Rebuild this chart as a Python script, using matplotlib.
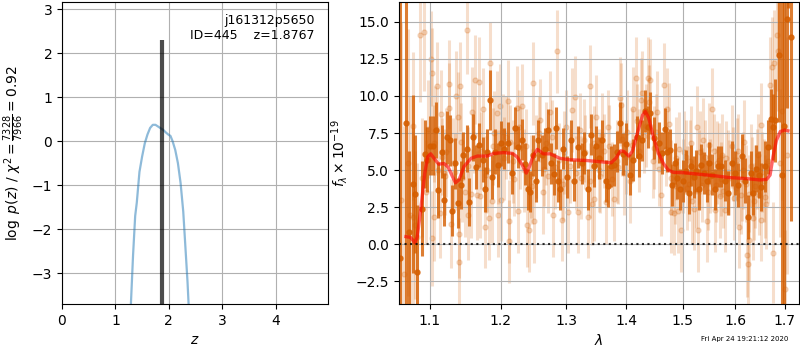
import matplotlib
matplotlib.use("Agg")
from matplotlib import pyplot as plt
from matplotlib.ticker import FixedLocator, FixedFormatter, NullLocator
import numpy as np

# p(z) curve
z_grid = [1.29, 1.33, 1.37, 1.40, 1.45, 1.50, 1.55, 1.60, 1.65, 1.70, 1.75, 1.80,
          1.85, 1.90, 1.95, 2.00, 2.03, 2.07, 2.12, 2.17, 2.22, 2.27, 2.31, 2.35, 2.37]
logpz = [-3.70, -2.6, -1.7, -1.4, -0.7, -0.35, -0.05, 0.15, 0.30, 0.37, 0.37, 0.33,
         0.29, 0.25, 0.19, 0.14, 0.12, 0.0, -0.2, -0.5, -0.95, -1.6, -2.4, -3.2, -3.70]
zbest = 1.8767
zbest_top = 2.3

# binned spectrum (dark points)
wave_bin = [1.060, 1.0675, 1.072, 1.078, 1.0795, 1.0826, 1.089, 1.0927, 1.096, 1.100,
            1.1042, 1.108, 1.1113, 1.116, 1.1198, 1.1236, 1.127, 1.130, 1.135, 1.1386,
            1.1424, 1.1457, 1.1505, 1.1547, 1.1594, 1.1635, 1.168, 1.1735, 1.1764, 1.1796,
            1.1844, 1.1877, 1.1915, 1.1952, 1.200, 1.205, 1.210, 1.2161, 1.2212, 1.2262,
            1.2312, 1.2364, 1.2403, 1.2439, 1.2479, 1.2524, 1.2565, 1.2615, 1.2667, 1.2717,
            1.2767, 1.2808, 1.2842, 1.2879, 1.2909, 1.2959, 1.301, 1.3087, 1.3131, 1.3197,
            1.3251, 1.3295, 1.335, 1.3403, 1.3448, 1.3485, 1.3541, 1.3595, 1.3649, 1.3693,
            1.3731, 1.3787, 1.3841, 1.3895, 1.394, 1.3993, 1.4055, 1.4115, 1.4175, 1.4218,
            1.4278, 1.432, 1.4369, 1.4418, 1.4478, 1.4564, 1.4624, 1.4673, 1.472, 1.4764,
            1.4805, 1.4855, 1.4902, 1.4945, 1.5006, 1.5068, 1.5119, 1.5162, 1.5213, 1.5257,
            1.5308, 1.5351, 1.5402, 1.5453, 1.5502, 1.5553, 1.5615, 1.5666, 1.5717, 1.5792,
            1.5868, 1.5930, 1.5992, 1.606, 1.6127, 1.6194, 1.6249, 1.6304, 1.6357, 1.6418,
            1.6473, 1.652, 1.6588, 1.6655, 1.671, 1.6757, 1.6803, 1.689, 1.6945, 1.699,
            1.7045, 1.708, 1.7125]
flux_bin = [-0.9, 8.15, 0.8, 4.06, 3.4, -1.85, 2.4, 6.1, 5.7, 6.65,
            6.65, 7.7, 3.65, 6.25, 3.02, 7.2, 7.0, 2.27, 5.45, 2.8,
            4.0, 6.0, 6.45, 2.85, 7.2, 5.2, 6.7, 5.7, 3.7, 6.25,
            9.72, 4.55, 6.25, 5.35, 6.8, 6.45, 6.85, 4.8, 7.85, 6.55,
            7.05, 5.4, 3.7, 3.55, 6.0, 4.25, 7.0, 6.0, 6.45, 7.7,
            5.45, 4.75, 7.85, 4.25, 3.7, 6.45, 4.55, 7.0, 4.3, 6.55,
            5.45, 6.15, 3.7, 7.4, 5.25, 6.6, 5.8, 7.0, 4.25, 3.95,
            5.25, 5.35, 6.25, 8.2, 6.1, 6.75, 4.7, 5.7, 7.25, 5.95,
            7.0, 9.0, 7.9, 8.85, 7.15, 6.85, 6.15, 7.8, 6.25, 6.35,
            4.0, 5.45, 4.45, 3.7, 4.25, 4.95, 3.45, 5.3, 4.55, 4.95,
            3.7, 5.35, 4.8, 4.25, 5.5, 4.7, 3.7, 5.25, 5.25, 4.3,
            3.45, 5.45, 4.8, 4.0, 5.95, 4.3, 1.85, 4.8, 3.45, 5.1,
            4.7, 3.85, 5.25, 6.55, 8.45, 7.9, 8.35, 12.75, 4.7, 8.0,
            15.2, 20.0, 14.0]
err_bin = [20, 15, 5.5, 6.0, 4.0, 4.5, 3.2, 2.3, 2.2, 2.0,
           2.0, 1.9, 1.9, 1.8, 1.8, 1.8, 1.7, 1.7, 1.7, 1.7,
           1.6, 1.6, 1.6, 1.6, 1.6, 1.5, 1.5, 1.5, 1.5, 1.5,
           2.0, 1.5, 1.5, 1.5, 1.5, 1.4, 1.4, 1.4, 1.4, 1.4,
           1.4, 1.4, 1.4, 1.4, 1.4, 1.4, 1.4, 1.4, 1.4, 1.4,
           1.4, 1.4, 1.4, 1.4, 1.4, 1.4, 1.4, 1.4, 1.4, 1.4,
           1.4, 1.4, 1.4, 1.4, 1.4, 1.4, 1.4, 1.4, 1.4, 1.4,
           1.4, 1.4, 1.4, 1.4, 1.4, 1.4, 1.4, 1.4, 1.4, 1.4,
           1.4, 1.4, 1.4, 1.4, 1.4, 1.4, 1.4, 1.4, 1.4, 1.4,
           1.4, 1.4, 1.4, 1.4, 1.4, 1.4, 1.4, 1.4, 1.4, 1.4,
           1.4, 1.4, 1.4, 1.4, 1.4, 1.4, 1.4, 1.4, 1.4, 1.4,
           1.5, 1.5, 1.5, 1.5, 1.5, 1.5, 1.5, 1.5, 1.5, 1.6,
           1.6, 1.6, 1.7, 1.8, 2.0, 2.2, 2.8, 4.5, 20, 12,
           6, 4.1, 12.4]

# unbinned spectrum (light points), scattered outliers
wave_raw = [1.0615, 1.066, 1.0705, 1.074, 1.077, 1.078, 1.0805, 1.083, 1.086, 1.089,
            1.0918, 1.095, 1.098, 1.1018, 1.1025, 1.1032, 1.1055, 1.1065, 1.1089, 1.1115,
            1.1135, 1.1152, 1.1185, 1.1225, 1.1255, 1.1262, 1.129, 1.132, 1.1357, 1.139,
            1.1395, 1.1405, 1.1415, 1.1445, 1.148, 1.1514, 1.1525, 1.1567, 1.158, 1.1622,
            1.1653, 1.168, 1.1703, 1.1735, 1.1764, 1.180, 1.183, 1.1844, 1.187, 1.1905,
            1.1938, 1.1963, 1.1985, 1.200, 1.2045, 1.208, 1.211, 1.212, 1.2128, 1.218,
            1.2236, 1.225, 1.2285, 1.2312, 1.235, 1.2391, 1.2415, 1.2455, 1.2489, 1.2494,
            1.2535, 1.2591, 1.263, 1.268, 1.2742, 1.2792, 1.2825, 1.2858, 1.2929, 1.2975,
            1.3035, 1.3103, 1.3148, 1.3185, 1.3235, 1.3285, 1.336, 1.3393, 1.3425, 1.3448,
            1.3485, 1.3535, 1.358, 1.3655, 1.371, 1.3787, 1.3835, 1.3885, 1.3905, 1.396,
            1.401, 1.406, 1.412, 1.416, 1.421, 1.425, 1.4278, 1.4335, 1.4369, 1.4418,
            1.448, 1.454, 1.4605, 1.466, 1.4712, 1.475, 1.4793, 1.4835, 1.4878, 1.4915,
            1.4975, 1.503, 1.508, 1.5135, 1.518, 1.522, 1.527, 1.5287, 1.533, 1.538,
            1.545, 1.549, 1.5553, 1.560, 1.565, 1.570, 1.575, 1.5792, 1.585, 1.593,
            1.598, 1.603, 1.608, 1.6135, 1.618, 1.6235, 1.6255, 1.628, 1.632, 1.6357,
            1.640, 1.6455, 1.6508, 1.652, 1.657, 1.662, 1.6691, 1.6735, 1.6757, 1.679,
            1.6843, 1.6865, 1.690, 1.6955, 1.700, 1.705]
flux_raw = [3.0, -2.0, 5.5, 2.0, 1.85, 7.96, 1.3, 0.5, 14.1, 4.5,
            14.3, 3.5, 7.8, 12.5, 0.4, 11.55, 1.85, 7.65, 10.65, 5.0,
            2.1, 8.75, 4.8, 6.2, 10.8, 9.2, 1.4, 5.5, 10.0, 8.6,
            -1.2, 0.7, 10.65, 4.5, 3.5, 14.45, 1.95, 3.4, 8.95, 11.1,
            3.3, 10.95, 3.25, 9.1, 1.2, 5.0, 1.75, 12.2, 2.9, 7.5,
            8.85, 1.95, 9.35, 3.0, 5.8, 7.2, 9.65, 0.2, 1.55, 5.6,
            9.2, 2.25, 6.5, 9.35, 5.0, 1.3, 0.95, 4.6, 10.85, 1.55,
            5.9, 8.35, 3.5, 6.8, 8.9, 1.95, 5.2, 13.0, 1.65, 6.2,
            2.2, 9.05, 9.9, 2.2, 4.5, 7.0, 1.85, 10.65, 2.75, 3.05,
            8.6, 5.0, 7.4, 2.85, 6.6, 3.05, 5.6, 9.85, 9.4, 4.8,
            7.6, 4.25, 9.15, 11.2, 6.3, 9.75, 10.2, 8.0, 11.2, 11.05,
            6.5, 8.9, 3.35, 10.75, 9.1, 8.1, 2.2, 2.1, 5.8, 2.25,
            0.95, 6.2, 3.8, 5.6, 2.9, 2.4, 7.9, 0.95, 6.2, 7.05,
            1.6, 6.7, 9.1, 2.3, 5.5, 3.25, 6.0, 2.3, 4.9, 6.6,
            3.1, 5.7, 1.2, 4.4, 6.9, -0.75, -1.3, 0.3, 5.3, 1.75,
            3.9, 6.0, 8.05, 1.65, 4.3, 2.7, 10.75, 11.95, -0.55, 12.2,
            14.1, 13.0, 5.5, 9.0, -3.0, 6.0]
err_raw = [12, 10, 9, 8, 6, 5, 5, 5, 4.5, 4,
           4, 3.5, 3.3, 3.2, 3.2, 3.0, 3.0, 3.0, 3.0, 3.0,
           3.0, 3.0, 3.0, 3.0, 3.0, 3.0, 3.0, 3.0, 3.0, 3.0,
           3.0, 3.0, 3.0, 3.0, 3.0, 3.0, 3.0, 3.0, 3.0, 3.0,
           3.0, 3.0, 2.8, 2.8, 2.8, 2.8, 2.8, 2.8, 2.8, 2.8,
           2.8, 2.8, 2.8, 2.8, 2.8, 2.8, 2.8, 2.8, 2.8, 2.8,
           2.8, 2.8, 2.8, 2.8, 2.8, 2.8, 2.8, 2.8, 2.8, 2.8,
           2.8, 2.8, 2.8, 2.8, 2.8, 2.8, 2.8, 2.8, 2.8, 2.8,
           2.8, 2.8, 2.8, 2.8, 2.8, 2.8, 2.8, 2.8, 2.8, 2.8,
           2.8, 2.8, 2.8, 2.8, 2.8, 2.8, 2.8, 2.8, 2.8, 2.8,
           2.8, 2.8, 2.8, 2.8, 2.8, 2.8, 2.8, 2.8, 2.8, 2.8,
           2.8, 2.8, 2.8, 2.8, 2.8, 2.8, 2.8, 2.8, 2.8, 2.8,
           2.8, 2.8, 2.8, 2.8, 2.8, 2.8, 2.8, 2.8, 2.8, 2.8,
           2.8, 2.8, 2.8, 2.8, 2.8, 2.8, 2.8, 2.8, 2.8, 2.8,
           2.8, 2.8, 2.8, 2.8, 2.8, 2.8, 2.8, 2.8, 2.8, 2.8,
           2.8, 2.8, 2.8, 2.8, 2.8, 3.0, 3.2, 3.4, 3.4, 3.6,
           3.8, 4.0, 5, 6, 4, 8]

# unbinned spectrum (light points), along the continuum band
wave_mid = [1.105, 1.117, 1.121, 1.134, 1.143, 1.153, 1.161, 1.171, 1.178, 1.189,
            1.196, 1.203, 1.214, 1.220, 1.227, 1.237, 1.247, 1.257, 1.265, 1.271,
            1.278, 1.289, 1.295, 1.300, 1.307, 1.316, 1.322, 1.331, 1.338, 1.346,
            1.356, 1.362, 1.368, 1.376, 1.386, 1.393, 1.399, 1.409, 1.418, 1.430,
            1.440, 1.446, 1.452, 1.458, 1.469, 1.478, 1.486, 1.493, 1.500, 1.506,
            1.511, 1.516, 1.524, 1.531, 1.536, 1.541, 1.547, 1.552, 1.558, 1.563,
            1.568, 1.573, 1.577, 1.582, 1.588, 1.596, 1.601, 1.606, 1.611, 1.616,
            1.621, 1.627, 1.634, 1.638, 1.643, 1.648, 1.654, 1.660, 1.665]
flux_mid = [6.8, 5.9, 4.6, 4.9, 6.9, 5.3, 7.4, 6.3, 4.7, 6.6,
            5.2, 7.6, 6.9, 4.4, 7.9, 6.6, 3.9, 7.5, 5.1, 4.6,
            7.2, 5.7, 4.1, 7.9, 5.3, 4.8, 7.7, 6.2, 4.3, 6.8,
            4.6, 6.3, 7.9, 4.4, 5.2, 7.1, 5.9, 6.7, 8.3, 7.3,
            9.6, 5.6, 7.6, 5.1, 6.4, 4.5, 3.9, 6.4, 4.6, 5.9,
            4.1, 6.8, 3.6, 5.2, 4.0, 5.9, 3.5, 4.6, 6.3, 4.0,
            5.7, 4.4, 3.6, 5.8, 4.5, 5.4, 3.8, 6.3, 3.3, 5.0,
            4.1, 3.4, 4.6, 2.9, 5.1, 3.3, 4.9, 3.2, 5.6]
err_mid = [2.6, 2.6, 2.6, 2.6, 2.6, 2.6, 2.6, 2.6, 2.6, 2.6,
           2.5, 2.5, 2.5, 2.5, 2.5, 2.5, 2.5, 2.5, 2.5, 2.5,
           2.5, 2.5, 2.5, 2.5, 2.5, 2.5, 2.5, 2.5, 2.5, 2.5,
           2.5, 2.5, 2.5, 2.5, 2.5, 2.5, 2.5, 2.5, 2.5, 2.5,
           2.5, 2.5, 2.5, 2.5, 2.5, 2.5, 2.5, 2.5, 2.5, 2.5,
           2.5, 2.5, 2.5, 2.5, 2.5, 2.5, 2.5, 2.5, 2.5, 2.5,
           2.5, 2.5, 2.5, 2.5, 2.5, 2.5, 2.5, 2.5, 2.6, 2.6,
           2.6, 2.6, 2.6, 2.6, 2.7, 2.7, 2.7, 2.8, 2.8]

# best-fit model
wave_model = [1.068, 1.074, 1.080, 1.083, 1.088, 1.093, 1.097, 1.101, 1.107, 1.112,
              1.119, 1.125, 1.131, 1.135, 1.140, 1.147, 1.157, 1.166, 1.180, 1.190,
              1.204, 1.217, 1.224, 1.232, 1.238, 1.243, 1.249, 1.255, 1.260, 1.264,
              1.275, 1.290, 1.305, 1.333, 1.355, 1.374, 1.382, 1.390, 1.396, 1.404,
              1.410, 1.419, 1.428, 1.433, 1.439, 1.447, 1.456, 1.465, 1.474, 1.483,
              1.501, 1.526, 1.558, 1.589, 1.622, 1.649, 1.663, 1.670, 1.676, 1.683,
              1.691, 1.700, 1.707]
flux_model = [0.52, 0.47, 0.1, 0.5, 2.5, 4.8, 5.9, 6.1, 5.7, 5.4,
              5.45, 5.2, 4.55, 4.15, 4.35, 5.25, 5.8, 5.95, 5.95, 6.13,
              6.18, 6.13, 5.9, 5.35, 4.8, 5.25, 6.0, 6.4, 6.25, 6.1,
              6.1, 5.8, 5.7, 5.65, 5.57, 5.5, 5.8, 6.3, 6.25, 5.95,
              6.25, 7.5, 8.7, 8.95, 8.5, 7.25, 6.15, 5.45, 5.0, 4.85,
              4.83, 4.74, 4.63, 4.5, 4.43, 4.34, 4.38, 4.67, 5.9, 7.0,
              7.6, 7.7, 7.65]

g141_color = (0.835, 0.369, 0.0)

fig = plt.figure(figsize=(8, 3.5), dpi=100)
ax1 = fig.add_axes([0.0775, 0.1314, 0.3325, 0.8629])
ax2 = fig.add_axes([0.49875, 0.1314, 0.4995, 0.8629])

# left panel: p(z)
ax1.plot(z_grid, logpz, color='C0', alpha=0.5, lw=1.6)
ax1.vlines(zbest, -10, zbest_top, color='k', alpha=0.7, lw=3)
ax1.set_xlim(0, 4.98)
ax1.set_ylim(-3.70, 3.16)
ax1.set_xticks([0, 1, 2, 3, 4])
ax1.set_yticks([-3, -2, -1, 0, 1, 2, 3])
ax1.grid()
ax1.set_xlabel(r'$z$')
ax1.set_ylabel(r'$\log\ p(z)$ / $\chi^2=\frac{7328}{7966}=0.92$')
ax1.text(0.95, 0.96, 'j161312p5650\nID=445    z=1.8767', ha='right', va='top',
         transform=ax1.transAxes, fontsize=9)

# right panel: spectrum
for w, f, e in [(wave_raw, flux_raw, err_raw), (wave_mid, flux_mid, err_mid)]:
    ax2.errorbar(w, f, e, color=g141_color, alpha=0.2, marker='o', ms=3.6,
                 linestyle='None', elinewidth=2.2, zorder=1)
ax2.errorbar(wave_bin, flux_bin, err_bin, color=g141_color, alpha=0.8, marker='o',
             ms=3.6, linestyle='None', elinewidth=2.2, zorder=2)
ax2.plot(wave_model, flux_model, color='r', alpha=0.6, lw=2.4, zorder=3)
ax2.axhline(0, color='k', linestyle=':', lw=1.5, alpha=0.8, zorder=4)

ax2.set_xscale('log')
lam_ticks = [1.1, 1.2, 1.3, 1.4, 1.5, 1.6, 1.7]
ax2.xaxis.set_major_locator(FixedLocator(lam_ticks))
ax2.xaxis.set_major_formatter(FixedFormatter(['%.1f' % t for t in lam_ticks]))
ax2.xaxis.set_minor_locator(NullLocator())
ax2.set_xlim(1.059, 1.7295)
ax2.set_ylim(-4.02, 16.33)
ax2.grid()
ax2.set_xlabel(r'$\lambda$')
ax2.set_ylabel(r'$f_\lambda\times10^{-19}$')

fig.text(0.985, 0.022, 'Fri Apr 24 19:21:12 2020', ha='right', va='bottom', fontsize=5)

fig.savefig('out.png', dpi=100)
